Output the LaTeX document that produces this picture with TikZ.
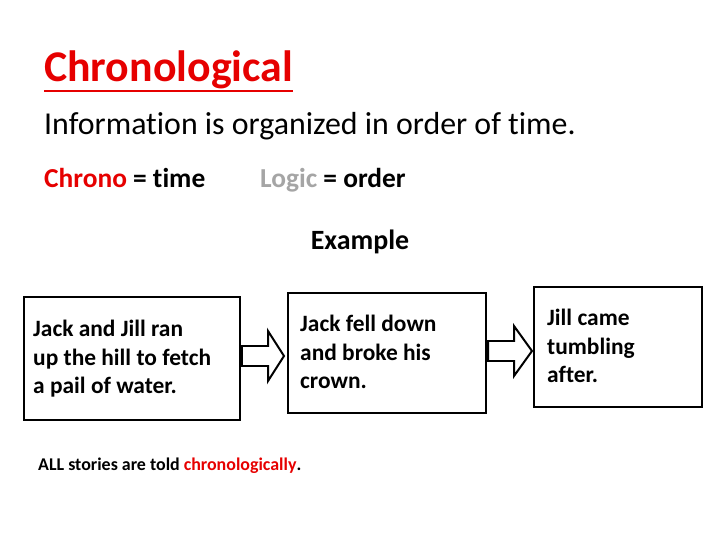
\documentclass[tikz,border=0pt]{standalone}
\usepackage{fontspec}
\setmainfont[Ligatures=NoCommon]{Carlito}
\usetikzlibrary{positioning}
\definecolor{chronoRed}{RGB}{230,0,0}
\definecolor{logicGray}{RGB}{165,165,165}
\tikzset{
	storytext/.style={anchor=north west, align=left, inner sep=0pt, font=\fontsize{23.5}{28.5}\selectfont\bfseries},
	blockarrow/.style={draw, line width=2pt, fill=white}
}
\begin{document}
\begin{tikzpicture}[x=1bp, y=-1bp]
	\useasboundingbox (0,0) rectangle (720,540);

	% heading
	\node (title) [anchor=base west, inner sep=0pt, text=chronoRed, font=\fontsize{44}{52}\selectfont\bfseries] at (44,82) {Chronological};
	\draw [chronoRed, line width=2.5pt] ([yshift=-9bp]title.base west) -- ([yshift=-9bp]title.base east);
	\node (intro) [anchor=base west, inner sep=0pt, font=\fontsize{32}{38}\selectfont] at (44,135) {Information is organized in order of time.};
	\node (chrono) [anchor=base west, inner sep=0pt, font=\fontsize{27.5}{33}\selectfont\bfseries] at (44,188) {\textcolor{chronoRed}{Chrono} = time};
	\node (logic) [anchor=base west, inner sep=0pt, font=\fontsize{27.5}{33}\selectfont\bfseries] at (260,188) {\textcolor{logicGray}{Logic} = order};
	\node (example) [anchor=base, inner sep=0pt, font=\fontsize{28}{33}\selectfont\bfseries] at (360,250) {Example};

	% boxes
	\draw [line width=2pt] (24,297) rectangle (240,420);
	\draw [line width=2pt] (288,293) rectangle (486,413);
	\draw [line width=2pt] (534,287) rectangle (702,407);
	\node (first) [storytext] at (33,320) {Jack and Jill ran\\up the hill to fetch\\a pail of water.};
	\node (second) [storytext] at (300,315) {Jack fell down\\and broke his\\crown.};
	\node (third) [storytext] at (547,309) {Jill came\\tumbling\\after.};

	% arrows
	\draw [blockarrow] (242,346) -- (268,346) -- (268,331) -- (284,356) -- (268,381) -- (268,366) -- (242,366) -- cycle;
	\draw [blockarrow] (488,341) -- (514,341) -- (514,326) -- (532,351) -- (514,376) -- (514,361) -- (488,361) -- cycle;

	% footer
	\node (footer) [anchor=base west, inner sep=0pt, font=\fontsize{18}{22}\selectfont\bfseries] at (38,470) {ALL stories are told \textcolor{chronoRed}{chronologically}.};
\end{tikzpicture}
\end{document}
